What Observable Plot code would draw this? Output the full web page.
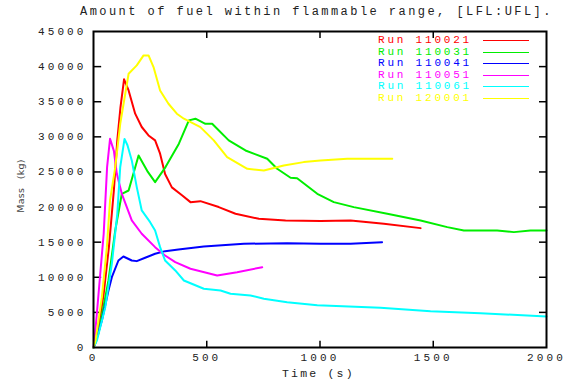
<!DOCTYPE html>
<html>
<head>
<meta charset="utf-8">
<script src="https://cdn.jsdelivr.net/npm/d3@7"></script>
<script src="https://cdn.jsdelivr.net/npm/@observablehq/plot@0.6"></script>
<style>
  html, body { margin: 0; padding: 0; background: #fff; }
  #wrap { position: relative; width: 570px; height: 385px; overflow: hidden; }
  #title { position: absolute; left: 80px; top: 5px; font-family: "Liberation Mono", monospace; font-size: 12px; letter-spacing: 2.45px; color: #222; white-space: nowrap; }
  .lbl { position: absolute; font-family: "Liberation Mono", monospace; color: #222; white-space: nowrap; }
  #xlabel { left: 282px; top: 367px; font-size: 11.5px; letter-spacing: 2.2px; }
  #ylabel { left: 20px; top: 186px; font-family: "DejaVu Sans", sans-serif; font-size: 9.5px; transform: translate(-50%, -50%) rotate(-90deg); letter-spacing: 0.3px; word-spacing: 5px; color: #444; }
  #legend { position: absolute; left: 330px; top: 34px; width: 200px; }
  .row { position: relative; height: 11.6px; }
  .row span { position: absolute; right: 58px; top: 0; font-family: "Liberation Mono", monospace; font-size: 11px; letter-spacing: 2.8px; line-height: 12px; white-space: nowrap; }
  .row i { position: absolute; left: 153px; width: 46px; top: 6px; height: 0; border-top: 1.6px solid; }
  svg text { letter-spacing: 3.1px; }
</style>
</head>
<body>
<div id="wrap">
  <div id="chart"></div>
  <div id="title">Amount of fuel within flammable range, [LFL:UFL].</div>
  <div id="xlabel" class="lbl">Time (s)</div>
  <div id="ylabel" class="lbl">Mass (kg)</div>
  <div id="legend"></div>
</div>
<script>
// ---- data ----
const runNames = ["Run 110021", "Run 110031", "Run 110041", "Run 110051", "Run 110061", "Run 120001"];
const runColors = ["#ff0000", "#00ee00", "#0000ff", "#ff00ff", "#00ffff", "#ffff00"];
const xTicks = [0, 500, 1000, 1500, 2000];
const yTicks = [0, 5000, 10000, 15000, 20000, 25000, 30000, 35000, 40000, 45000];

const t110021 = [0, 10, 23, 45, 68, 90, 105, 119, 135, 155, 184, 213, 243, 272, 294, 316, 346, 392, 428, 472, 553, 627, 730, 848, 1002, 1135, 1282, 1444];
const m110021 = [0, 800, 2900, 7650, 14300, 22400, 29500, 34200, 38200, 36600, 33300, 31400, 30200, 29500, 27600, 24700, 22800, 21650, 20700, 20840, 20000, 19040, 18330, 18090, 18000, 18090, 17620, 17000];

const t110031 = [0, 22, 66, 96, 125, 155, 199, 240, 272, 318, 377, 421, 450, 494, 524, 597, 671, 767, 811, 870, 899, 988, 1061, 1149, 1297, 1444, 1562, 1635, 1782, 1856, 1929, 2000];
const m110031 = [0, 2000, 9540, 16670, 21890, 22360, 27350, 25000, 23550, 25690, 29020, 32340, 32580, 31860, 31860, 29490, 28060, 26880, 25450, 24170, 24100, 21890, 20700, 19990, 19040, 18090, 17140, 16670, 16670, 16430, 16670, 16670];

const t110041 = [0, 7, 37, 66, 81, 110, 132, 169, 191, 228, 272, 316, 375, 487, 664, 855, 1002, 1135, 1274];
const m110041 = [0, 530, 3850, 8120, 10020, 12390, 12960, 12390, 12300, 12780, 13350, 13720, 13960, 14390, 14770, 14860, 14770, 14770, 15000];

const t110051 = [0, 7, 16, 31, 45, 60, 73, 90, 103, 125, 169, 213, 272, 316, 361, 428, 546, 634, 745];
const m110051 = [0, 2000, 5270, 10970, 16200, 25680, 29730, 28000, 24740, 21890, 18090, 16200, 14290, 13100, 12150, 11210, 10260, 10730, 11440];

const t110061 = [0, 15, 52, 81, 105, 118, 137, 150, 169, 191, 213, 250, 272, 294, 316, 361, 399, 487, 561, 605, 693, 752, 855, 988, 1267, 1488, 1709, 2000];
const m110061 = [0, 1000, 5740, 11920, 19000, 25700, 29700, 28800, 26640, 22840, 19520, 17850, 16670, 14290, 12390, 10970, 9540, 8360, 8120, 7650, 7410, 6940, 6450, 6000, 5650, 5170, 4890, 4410];

const t120001 = [0, 9, 37, 59, 73, 96, 118, 155, 191, 221, 243, 265, 294, 331, 368, 399, 472, 531, 590, 679, 752, 840, 928, 1002, 1120, 1319];
const m120001 = [0, 1000, 7160, 14290, 20940, 25680, 31860, 38980, 40170, 41600, 41600, 39930, 36610, 34710, 33290, 32580, 31380, 29490, 27110, 25450, 25210, 25930, 26400, 26640, 26880, 26880];

// ---- build table ----
const seriesT = [t110021, t110031, t110041, t110051, t110061, t120001];
const seriesM = [m110021, m110031, m110041, m110051, m110061, m120001];
const rows = [];
runNames.forEach((name, i) => {
  seriesT[i].forEach((t, j) => rows.push({run: name, t, m: seriesM[i][j]}));
});

const innerTicks = [500, 1000, 1500];
const innerYTicks = yTicks.slice(1, -1);

const chart = Plot.plot({
  width: 570,
  height: 385,
  marginLeft: 93,
  marginRight: 24,
  marginTop: 31,
  marginBottom: 38,
  style: {background: "#fff", fontFamily: "Liberation Mono, monospace", fontSize: "11px", color: "#222"},
  x: {domain: [0, 2000]},
  y: {domain: [0, 45000]},
  color: {domain: runNames, range: runColors},
  marks: [
    Plot.axisX({ticks: xTicks, tickSize: 0, tickPadding: 6, label: null, tickFormat: d => String(d)}),
    Plot.axisY({ticks: yTicks, tickSize: 0, tickPadding: 7, label: null, tickFormat: d => String(d)}),
    // inward mirrored ticks (gnuplot style)
    Plot.ruleY(innerYTicks, {y: d => d, x1: 0, x2: 36, stroke: "#000", strokeWidth: 1.5}),
    Plot.ruleY(innerYTicks, {y: d => d, x1: 1969, x2: 2000, stroke: "#000", strokeWidth: 1.5}),
    Plot.ruleX(innerTicks, {x: d => d, y1: 0, y2: 900, stroke: "#000", strokeWidth: 1.5}),
    Plot.ruleX(innerTicks, {x: d => d, y1: 44000, y2: 45000, stroke: "#000", strokeWidth: 1.5}),
    Plot.line(rows, {x: "t", y: "m", z: "run", stroke: "run", strokeWidth: 2}),
    Plot.frame({stroke: "#000", strokeWidth: 2})
  ]
});
document.getElementById("chart").appendChild(chart);

// legend
const lg = document.getElementById("legend");
runNames.forEach((name, i) => {
  const r = document.createElement("div");
  r.className = "row";
  const s = document.createElement("span");
  s.textContent = name;
  s.style.color = runColors[i];
  const l = document.createElement("i");
  l.style.borderColor = runColors[i];
  r.appendChild(s); r.appendChild(l);
  lg.appendChild(r);
});
</script>
</body>
</html>
